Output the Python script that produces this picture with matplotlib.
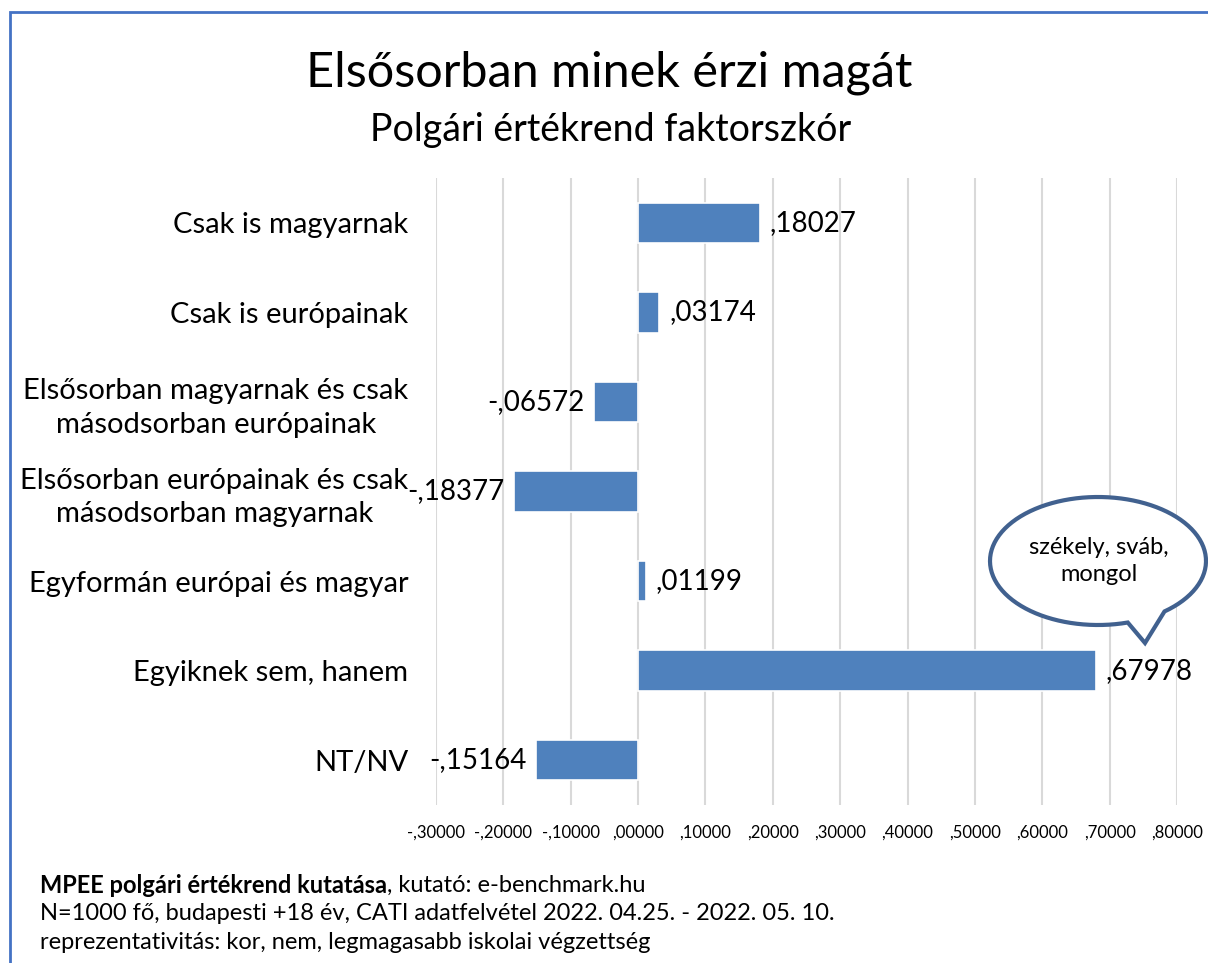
import matplotlib.pyplot as plt
import matplotlib.patches as mpatches
import numpy as np

plt.rcParams['font.family'] = ['Lato', 'DejaVu Sans']

# adatok
categories = [
    'Csak is magyarnak',
    'Csak is európainak',
    'Elsősorban magyarnak és csak\nmásodsorban európainak',
    'Elsősorban európainak és csak\nmásodsorban magyarnak',
    'Egyformán európai és magyar',
    'Egyiknek sem, hanem',
    'NT/NV',
]
values = [0.18027, 0.03174, -0.06572, -0.18377, 0.01199, 0.67978, -0.15164]
value_labels = [',18027', ',03174', '-,06572', '-,18377', ',01199', ',67978', '-,15164']
xticks = [-0.3, -0.2, -0.1, 0.0, 0.1, 0.2, 0.3, 0.4, 0.5, 0.6, 0.7, 0.8]
xtick_labels = ['-,30000', '-,20000', '-,10000', ',00000', ',10000', ',20000',
                ',30000', ',40000', ',50000', ',60000', ',70000', ',80000']

W, H = 1208, 963
fig = plt.figure(figsize=(W / 100, H / 100), dpi=100)

# keret
frame = mpatches.Rectangle((10 / W, -0.05), 1.2, 1 - 12 / H + 0.05, transform=fig.transFigure,
                           fill=False, edgecolor='#4472C4', linewidth=2, clip_on=False)
fig.patches.append(frame)

ax = fig.add_axes([436 / W, 1 - 805 / H, (1177 - 436) / W, (805 - 178) / H])
y = np.arange(len(categories))
ax.barh(y, values, height=0.45, color='#4F81BD', edgecolor='white', linewidth=1.2, zorder=3)
ax.set_ylim(len(categories) - 0.5, -0.5)
ax.set_xlim(-0.3, 0.8)
ax.set_xticks(xticks)
ax.set_xticklabels(xtick_labels, fontsize=12)
ax.set_yticks(y)
ax.set_yticklabels(categories, fontsize=21)
for lbl in ax.get_yticklabels():
    lbl.set_multialignment('center')
    lbl.set_linespacing(1.35)
ax.tick_params(axis='y', length=0, pad=20)
ax.tick_params(axis='x', length=0, pad=14)
ax.grid(axis='x', color='#D9D9D9', linewidth=1.5, zorder=0)
for s in ax.spines.values():
    s.set_visible(False)

for yi, v, t in zip(y, values, value_labels):
    if v >= 0:
        ax.annotate(t, (v, yi), xytext=(7, 0), textcoords='offset points',
                    ha='left', va='center', fontsize=20)
    else:
        ax.annotate(t, (v, yi), xytext=(-7, 0), textcoords='offset points',
                    ha='right', va='center', fontsize=20)

# címek
fig.text(609 / W, 1 - 73 / H, 'Elsősorban minek érzi magát', ha='center', va='center', fontsize=35)
fig.text(611 / W, 1 - 130 / H, 'Polgári értékrend faktorszkór', ha='center', va='center', fontsize=27)

# szövegbuborék
cx, cy, rx, ry = 1098, 561, 108, 64
theta = np.linspace(np.deg2rad(-52), np.deg2rad(-52) + 2 * np.pi - np.deg2rad(22), 100)
pts = [(cx + rx * np.cos(t), cy - ry * np.sin(t)) for t in theta]
pts = pts + [(1145, 643)]
pts = [(x / W, 1 - yy / H) for x, yy in pts]
bubble = mpatches.Polygon(pts, closed=True, transform=fig.transFigure, facecolor='white',
                          edgecolor='#41618F', linewidth=3, zorder=5)
fig.patches.append(bubble)
fig.text(1099 / W, 1 - 561 / H, 'székely, sváb,\nmongol', ha='center', va='center',
         fontsize=17, linespacing=1.4, zorder=6)

# lábjegyzet
bold = fig.text(40 / W, 1 - 885 / H, 'MPEE polgári értékrend kutatása', fontsize=17,
                fontweight='bold', va='center', ha='left')
fig.canvas.draw()
bb = bold.get_window_extent()
fig.text(bb.x1 / W, 1 - 885 / H, ', kutató: e-benchmark.hu', fontsize=17, va='center', ha='left')
fig.text(40 / W, 1 - 913 / H, 'N=1000 fő, budapesti +18 év, CATI adatfelvétel 2022. 04.25. - 2022. 05. 10.',
         fontsize=17, va='center', ha='left')
fig.text(40 / W, 1 - 942 / H, 'reprezentativitás: kor, nem, legmagasabb iskolai végzettség',
         fontsize=17, va='center', ha='left')

fig.savefig('out.png', dpi=100)
